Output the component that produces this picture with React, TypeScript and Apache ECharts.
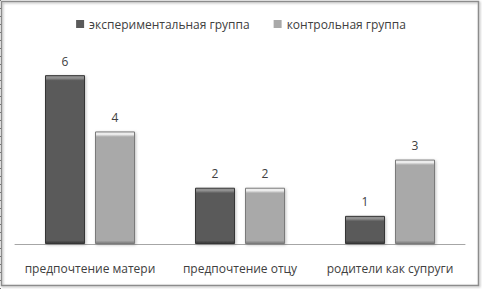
import React, { useEffect, useRef } from "react";
import * as echarts from "echarts";

const categories = ["предпочтение матери", "предпочтение отцу", "родители как супруги"];
const seriesNames = ["экспериментальная группа", "контрольная группа"];
const experimental = [6, 2, 1];
const control = [4, 2, 3];

const FONT = "'Open Sans', 'Noto Sans', sans-serif";

function bevel(base: string, light: string, dark: string, value: number) {
  const px = value * 28.2;
  const f = Math.min(0.3, 5 / px);
  return {
    color: {
      type: "linear",
      x: 0,
      y: 0,
      x2: 0,
      y2: 1,
      colorStops: [
        { offset: 0, color: light },
        { offset: f * 0.5, color: light },
        { offset: f, color: base },
        { offset: 1 - 3 / px, color: base },
        { offset: 1, color: dark },
      ],
    },
    borderColor: dark,
    borderWidth: 1,
    shadowColor: "rgba(0,0,0,0.25)",
    shadowBlur: 3,
    shadowOffsetX: 1,
    shadowOffsetY: 1,
  };
}

export default function App() {
  const ref = useRef<HTMLDivElement>(null);
  useEffect(() => {
    if (!ref.current) return;
    const chart = echarts.init(ref.current, undefined, { renderer: "svg" });
    chart.setOption({
      animation: false,
      backgroundColor: "#ffffff",
      textStyle: { fontFamily: FONT },
      graphic: [
        {
          type: "rect",
          shape: { x: 1.5, y: 1.5, width: 477, height: 284 },
          style: { fill: "none", stroke: "#8c8c8c", lineWidth: 1.5, shadowColor: "rgba(0,0,0,0.3)", shadowBlur: 2, shadowOffsetX: 1, shadowOffsetY: 1 },
          silent: true,
          z: 10,
        },
        {
          type: "line",
          shape: { x1: 0.5, y1: 0, x2: 0.5, y2: 289 },
          style: { stroke: "#777", lineWidth: 1, lineDash: [1, 7] },
          silent: true,
          z: 10,
        },
      ],
      legend: {
        top: 13,
        left: "center",
        itemWidth: 8,
        itemHeight: 8,
        itemGap: 24,
        icon: "rect",
        textStyle: { fontSize: 12, color: "#404040", fontFamily: FONT },
        data: seriesNames,
      },
      grid: { left: 15, right: 17, top: 47, bottom: 45 },
      xAxis: {
        type: "category",
        data: categories,
        axisLine: { lineStyle: { color: "#a6a6a6", width: 1 } },
        axisTick: { show: false },
        axisLabel: { interval: 0, fontSize: 12, color: "#404040", margin: 18, fontFamily: FONT },
      },
      yAxis: {
        type: "value",
        min: 0,
        max: 7,
        show: false,
        splitLine: { show: false },
      },
      series: [
        {
          name: seriesNames[0],
          type: "bar",
          barWidth: 40,
          barGap: "25%",
          itemStyle: { color: "#5a5a5a" },
          data: experimental.map((v) => ({ value: v, itemStyle: bevel("#5a5a5a", "#909090", "#353535", v) })),
          label: { show: true, position: "top", distance: 8, fontSize: 12, color: "#404040", fontFamily: FONT },
        },
        {
          name: seriesNames[1],
          type: "bar",
          barWidth: 40,
          itemStyle: { color: "#a9a9a9" },
          data: control.map((v) => ({ value: v, itemStyle: bevel("#a9a9a9", "#ececec", "#7a7a7a", v) })),
          label: { show: true, position: "top", distance: 8, fontSize: 12, color: "#404040", fontFamily: FONT },
        },
      ],
    });
    return () => chart.dispose();
  }, []);
  return <div ref={ref} style={{ position: "fixed", left: 0, top: 0, width: 482, height: 289 }} />;
}
